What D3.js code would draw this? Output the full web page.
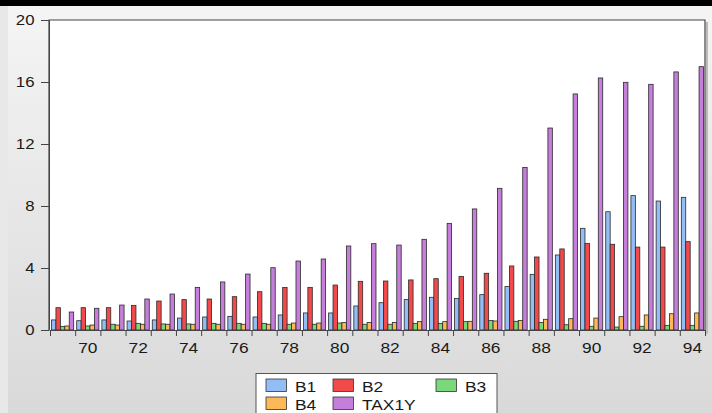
<!DOCTYPE html>
<html>
<head>
<meta charset="utf-8">
<script src="https://cdn.jsdelivr.net/npm/d3@7"></script>
<style>
  html, body { margin: 0; padding: 0; background: #e6e6e6; }
  svg { display: block; font-family: "Liberation Sans", Arial, sans-serif; }
</style>
</head>
<body>
<svg id="chart" width="712" height="413"></svg>
<script>
// years 1969..1994
const years = d3.range(1969, 1995)
const seriesNames = ['B1', 'B2', 'B3', 'B4', 'TAX1Y']
const seriesColors = ['#92bdf5', '#f24a4a', '#7ad87a', '#fdb858', '#c57ed9']

const b1 = [0.65, 0.60, 0.65, 0.58, 0.65, 0.77, 0.84, 0.88, 0.84, 0.97, 1.10, 1.10, 1.55,
    1.76, 1.96, 2.11, 2.04, 2.28, 2.80, 3.59, 4.84, 6.56, 7.63, 8.67, 8.32, 8.56]
const b2 = [1.44, 1.44, 1.44, 1.59, 1.87, 1.96, 2.00, 2.15, 2.47, 2.75, 2.75, 2.90, 3.14,
    3.16, 3.23, 3.31, 3.46, 3.66, 4.13, 4.71, 5.23, 5.59, 5.53, 5.35, 5.35, 5.70]
const b3 = [0.22, 0.26, 0.37, 0.43, 0.39, 0.39, 0.43, 0.43, 0.43, 0.37, 0.37, 0.45, 0.37,
    0.37, 0.43, 0.43, 0.54, 0.62, 0.56, 0.49, 0.34, 0.24, 0.19, 0.24, 0.30, 0.30]
const b4 = [0.26, 0.32, 0.32, 0.37, 0.37, 0.37, 0.37, 0.37, 0.37, 0.45, 0.45, 0.49, 0.49,
    0.49, 0.54, 0.54, 0.56, 0.58, 0.62, 0.69, 0.73, 0.77, 0.86, 0.97, 1.05, 1.10]
const tax1y = [1.16, 1.40, 1.61, 2.00, 2.32, 2.75, 3.10, 3.61, 4.02, 4.45, 4.58, 5.42, 5.57,
    5.48, 5.85, 6.88, 7.81, 9.14, 10.49, 13.03, 15.23, 16.26, 15.98, 15.85, 16.65, 16.99]

const yTicks = [0, 4, 8, 12, 16, 20]
const xLabelYears = d3.range(1970, 1995, 2)

const seriesValues = [b1, b2, b3, b4, tax1y]

const svg = d3.select('#chart')
const W = 712, H = 413
const plot = { left: 50, right: 705, top: 20, bottom: 330 }
const stretch = 1.12 // text in the picture is a bit wider than Arial

// background panel
const defs = svg.append('defs')
const grad = defs.append('linearGradient').attr('id', 'bg').attr('x1', 0).attr('y1', 0).attr('x2', 0).attr('y2', 1)
grad.append('stop').attr('offset', '0%').attr('stop-color', '#f5f5f5')
grad.append('stop').attr('offset', '100%').attr('stop-color', '#d9d9d9')

svg.append('rect').attr('width', W).attr('height', H).attr('fill', '#e8e8e8')
svg.append('rect').attr('x', 8).attr('y', 0).attr('width', W - 8).attr('height', H).attr('fill', 'url(#bg)')
svg.append('rect').attr('x', 0).attr('y', 0).attr('width', W).attr('height', 6).attr('fill', '#000')

// plot area
svg.append('rect')
    .attr('x', plot.left - 1).attr('y', plot.top)
    .attr('width', plot.right - plot.left + 1).attr('height', plot.bottom - plot.top)
    .attr('fill', '#fff')

const x = d3.scaleBand().domain(years).range([plot.left, plot.right]).paddingInner(0).paddingOuter(0)
const xInner = d3.scaleBand().domain(seriesNames).range([1.5, x.bandwidth() - 1.5])
const y = d3.scaleLinear().domain([0, 20]).range([plot.bottom, plot.top])

const rows = years.map((yr, i) => ({ year: yr, values: seriesNames.map((s, j) => ({ key: s, color: seriesColors[j], value: seriesValues[j][i] })) }))

const groups = svg.append('g').selectAll('g').data(rows).enter()
    .append('g')
    .attr('transform', d => `translate(${x(d.year)},0)`)

groups.selectAll('rect').data(d => d.values).enter()
    .append('rect')
    .attr('x', d => xInner(d.key))
    .attr('y', d => y(d.value))
    .attr('width', xInner.bandwidth())
    .attr('height', d => y(0) - y(d.value))
    .attr('fill', d => d.color)
    .attr('stroke', '#2a2a2a')
    .attr('stroke-width', 0.8)

// frame
svg.append('path')
    .attr('d', `M${plot.left - 1},${plot.bottom}V${plot.top}H${plot.right}V${plot.bottom}`)
    .attr('fill', 'none').attr('stroke', '#444').attr('stroke-width', 1.2)
svg.append('line')
    .attr('x1', plot.right + 2).attr('x2', plot.right + 2).attr('y1', plot.top + 2).attr('y2', plot.bottom + 4)
    .attr('stroke', '#bbb').attr('stroke-width', 2)

// y axis
const yAxis = svg.append('g').attr('transform', `translate(${plot.left - 1},0)`)
    .call(d3.axisLeft(y).tickValues(yTicks).tickSize(8).tickPadding(6).tickSizeOuter(0))
yAxis.select('.domain').attr('stroke', '#444')
yAxis.selectAll('.tick line').attr('stroke', '#444')
yAxis.selectAll('text')
    .attr('font-size', 15).attr('fill', '#1a1a1a').attr('font-family', '"Liberation Sans", Arial, sans-serif')
    .attr('x', -14.5 / stretch)
    .attr('transform', `scale(${stretch},1)`)

// x axis: ticks at group edges
const xEdge = d3.scaleLinear().domain([1969, 1995]).range([plot.left, plot.right])
const xTickAxis = svg.append('g').attr('transform', `translate(0,${plot.bottom})`)
    .call(d3.axisBottom(xEdge).tickValues(d3.range(1969, 1996)).tickFormat('').tickSize(6).tickSizeOuter(0))
xTickAxis.select('.domain').attr('stroke', '#444').attr('stroke-width', 1.2)
xTickAxis.selectAll('.tick line').attr('stroke', '#444')

const xLabelAxis = svg.append('g').attr('transform', `translate(0,${plot.bottom})`)
    .call(d3.axisBottom(x).tickValues(xLabelYears).tickFormat(d => String(d % 100).padStart(2, '0')).tickSize(0).tickPadding(12))
xLabelAxis.select('.domain').remove()
xLabelAxis.selectAll('text')
    .attr('font-size', 15.5).attr('fill', '#1a1a1a').attr('font-family', '"Liberation Sans", Arial, sans-serif')
    .attr('transform', `scale(${stretch},1)`)

// legend
const legend = svg.append('g')
legend.append('rect')
    .attr('x', 256).attr('y', 373.5).attr('width', 241).attr('height', 60)
    .attr('fill', '#fff').attr('stroke', '#555').attr('stroke-width', 1)

const legendCols = [266, 333, 436]
const legendItems = legend.selectAll('g.item').data(seriesNames.map((s, i) => ({ name: s, color: seriesColors[i], i }))).enter()
    .append('g')
    .attr('class', 'item')
    .attr('transform', d => `translate(${legendCols[d.i % 3]},${379 + Math.floor(d.i / 3) * 18})`)

legendItems.append('rect')
    .attr('width', 20.5).attr('height', 12.5)
    .attr('fill', d => d.color).attr('stroke', '#333').attr('stroke-width', 0.8)

legendItems.append('text')
    .attr('transform', `translate(29,12.5) scale(${stretch},1)`)
    .attr('font-size', 15.5).attr('fill', '#1a1a1a')
    .text(d => d.name)
</script>
</body>
</html>
